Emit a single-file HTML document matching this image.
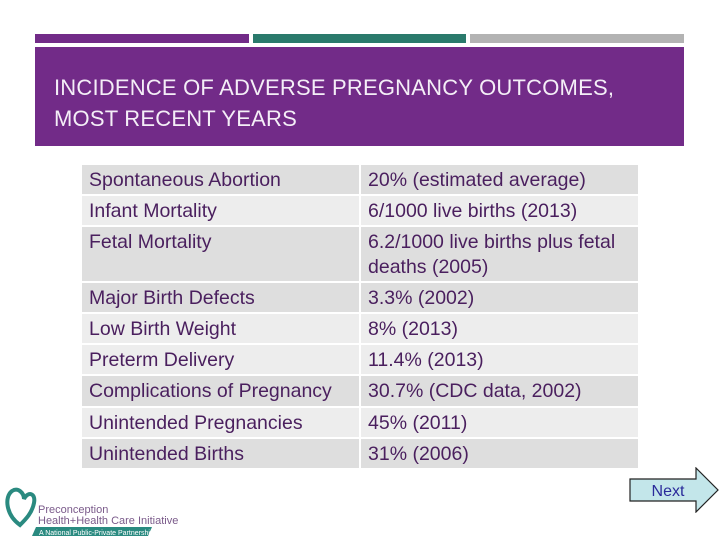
<!DOCTYPE html>
<html><head><meta charset="utf-8"><style>
body{margin:0;width:720px;height:540px;background:#fff;position:relative;overflow:hidden;font-family:"Liberation Sans",sans-serif}
.bar{position:absolute;top:34px;height:9px}
#hdr{position:absolute;left:35px;top:47px;width:649px;height:99px;background:#722b88}
#title{position:absolute;left:19px;top:25px;color:#f4eef7;font-size:22px;line-height:31px;letter-spacing:0.2px}
table{position:absolute;left:80px;top:163px;width:560px;border-collapse:collapse}
td{padding:3px 7px 2px 7px;font-size:19.5px;color:#4a1f5e;vertical-align:top;line-height:24.2px;border:2px solid #fff;white-space:nowrap}
tr.d td{background:#dedede}tr.l td{background:#ededed}
td:first-child{width:263px}
</style></head><body>
<div class="bar" style="left:35px;width:214px;background:#722b88"></div>
<div class="bar" style="left:253px;width:213px;background:#2a7a6c"></div>
<div class="bar" style="left:470px;width:214px;background:#b3b3b3"></div>
<div id="hdr"><div id="title">INCIDENCE OF ADVERSE PREGNANCY OUTCOMES,<br>MOST RECENT YEARS</div></div>
<table>
<tr class="d"><td>Spontaneous Abortion</td><td>20% (estimated average)</td></tr>
<tr class="l"><td>Infant Mortality</td><td>6/1000 live births (2013)</td></tr>
<tr class="d"><td>Fetal Mortality</td><td>6.2/1000 live births plus fetal<br>deaths (2005)</td></tr>
<tr class="d"><td>Major Birth Defects</td><td>3.3% (2002)</td></tr>
<tr class="l"><td>Low Birth Weight</td><td>8% (2013)</td></tr>
<tr class="l"><td>Preterm Delivery</td><td>11.4% (2013)</td></tr>
<tr class="d"><td>Complications of Pregnancy</td><td>30.7% (CDC data, 2002)</td></tr>
<tr class="l"><td>Unintended Pregnancies</td><td>45% (2011)</td></tr>
<tr class="d"><td>Unintended Births</td><td>31% (2006)</td></tr>
</table>
<svg style="position:absolute;left:628px;top:467px" width="92" height="46">
<polygon points="2,12 68,12 68,1 90,23 68,45 68,34 2,34" fill="#c3e6ea" stroke="#222" stroke-width="1.2"/>
<text x="40" y="29" text-anchor="middle" font-family="Liberation Sans" font-size="16" fill="#2a2a9a">Next</text></svg>
<svg style="position:absolute;left:2px;top:485px" width="185" height="52">
<path d="M18,40 C4,30 2,12 10,6 C16,2 22,8 22,14 C26,6 34,8 32,18 C30,28 24,34 18,40 Z" fill="none" stroke="#2a8a80" stroke-width="4"/>
<text x="36" y="28" font-family="Liberation Sans" font-size="11" fill="#7a5a8a">Preconception</text>
<text x="36" y="39" font-family="Liberation Sans" font-size="11" fill="#7a5a8a">Health+Health Care Initiative</text>
<polygon points="34,42 150,42 146,51 30,51" fill="#2a8a80"/>
<text x="37" y="50" font-family="Liberation Sans" font-size="7" fill="#fff">A National Public-Private Partnership</text></svg>
</body></html>
